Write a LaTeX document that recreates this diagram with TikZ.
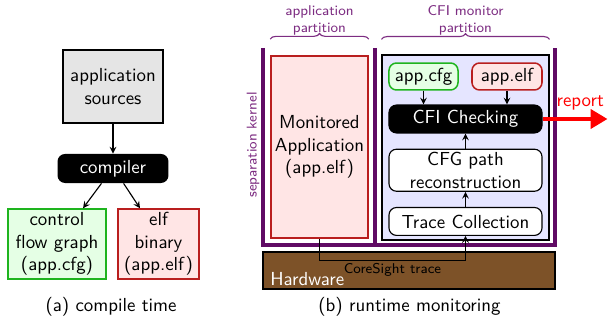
\documentclass[tikz,border=0pt]{standalone}
\usepackage{tikz}
\usetikzlibrary{arrows, arrows.meta, positioning, decorations.pathreplacing}

\definecolor{kernelviolet}{RGB}{96,10,100}
\definecolor{bracepurple}{RGB}{125,45,130}
\definecolor{hwbrown}{RGB}{125,82,40}
\definecolor{cfggreen}{RGB}{30,180,30}
\definecolor{elfred}{RGB}{185,30,30}

\begin{document}
\begin{tikzpicture}[
    x=0.53pt, y=-0.53pt,
    node distance=8pt,
    srcbox/.style={draw, semithick, rectangle, fill=gray!20, minimum width=53pt, minimum height=38.7pt, align=center, font=\sffamily, inner sep=1pt},
    tool/.style={rectangle, rounded corners=4pt, fill=black, text=white, minimum width=58.8pt, minimum height=15.4pt, font=\sffamily, inner sep=1pt},
    cfgbox/.style={draw=cfggreen, thick, rectangle, fill=green!10, minimum height=37.1pt, align=center, font=\sffamily, inner sep=1pt},
    elfbox/.style={draw=elfred, thick, rectangle, fill=red!10, minimum height=37.1pt, align=center, font=\sffamily, inner sep=1pt},
    stage/.style={draw, semithick, rectangle, rounded corners=4pt, fill=white, minimum width=81.1pt, align=center, font=\sffamily, inner sep=1pt},
    partbg/.style={draw, semithick, rectangle, fill=blue!10, minimum width=88.5pt, minimum height=98pt},
    small/.style={font=\sffamily\fontsize{7.5}{9}\selectfont, align=center},
    brace/.style={decorate, decoration={brace, amplitude=3pt}, bracepurple, semithick},
    arrow/.style={-stealth, semithick},
    report/.style={-{Triangle[length=9pt, width=10pt]}, red, line width=2.6pt}
]
\useasboundingbox (0,0) rectangle (608,322);

% (a) compile time
\node[srcbox] (src) at (113,86.5) {application\\sources};
\node[tool, below=15.9pt of src.south, anchor=north] (comp) {compiler};
\node[cfgbox, minimum width=52pt] (cfg) at (57,244) {control\\flow graph\\(app.cfg)};
\node[elfbox, minimum width=43pt] (elf) at (158.5,244) {elf\\binary\\(app.elf)};

\draw[arrow] (src.south) -- (src.south |- comp.north);
\draw[arrow] ([xshift=-6.1pt]comp.south) -- ([xshift=13.8pt]cfg.north);
\draw[arrow] ([xshift=5.6pt]comp.south) -- ([xshift=-9.8pt]elf.north);

\node[font=\sffamily] (capa) at (111,307) {(a) compile time};

% (b) runtime monitoring
\node[elfbox, minimum width=51.4pt, minimum height=96.5pt] (mon) at (319.5,147) {Monitored\\Application\\(app.elf)};
\node[partbg] (cfimon) at (465.5,147.5) {};

\node[stage, fill=black, text=white, minimum height=14.8pt] (check) at (465.5,119) {CFI Checking};
\node[stage, minimum height=22.3pt, below=of check] (recon) {CFG path\\reconstruction};
\node[stage, minimum height=14.8pt, below=of recon] (trace) {Trace Collection};

\node[cfgbox, rounded corners=4pt, minimum width=36.6pt, minimum height=14.3pt] (appcfg) at (423.5,76.5) {app.cfg};
\node[elfbox, rounded corners=4pt, minimum width=37.1pt, minimum height=14.3pt] (appelf) at (507,76.5) {app.elf};

% separation kernel
\draw[kernelviolet, line width=2.1pt] (263,48) -- (263,245) -- (555,245) -- (555,48);
\draw[kernelviolet, line width=2.1pt] (375,48) -- (375,245);
\node[small, text=bracepurple, rotate=90] (sepk) at (253,145) {separation kernel};

% partitions
\draw[brace] ([yshift=8.5pt]mon.north west) -- ([yshift=8.5pt]mon.north east)
    node[midway, above=1pt, small, inner sep=1pt, text=bracepurple] {application\\partition};
\draw[brace] ([yshift=8pt]cfimon.north west) -- ([yshift=8pt]cfimon.north east)
    node[midway, above=1pt, small, inner sep=1pt, text=bracepurple] {CFI monitor\\partition};

% Hardware
\node[draw, semithick, fill=hwbrown, minimum width=154.8pt, minimum height=19.6pt] (hw) at (409,270.5) {};
\node[anchor=south west, text=white, font=\sffamily, inner xsep=4pt, inner ysep=2pt] (hwtext) at (hw.south west) {Hardware};

% connectors
\draw[arrow] (appcfg.south) -- (appcfg.south |- check.north);
\draw[arrow] (appelf.south) -- (appelf.south |- check.north);
\draw[arrow] (trace.north) -- (recon.south);
\draw[arrow] (recon.north) -- (check.south);
\draw[arrow] (mon.south) -- ++(0,22) -| node[pos=0.25, below, small, inner sep=1pt] {CoreSight trace} (trace.south);
\draw[report] (check.east) -- ++(65,0) node[pos=0.58, above, font=\sffamily, text=red] {report};

\node[font=\sffamily] (capb) at (409.5,307) {(b) runtime monitoring};

\end{tikzpicture}
\end{document}
